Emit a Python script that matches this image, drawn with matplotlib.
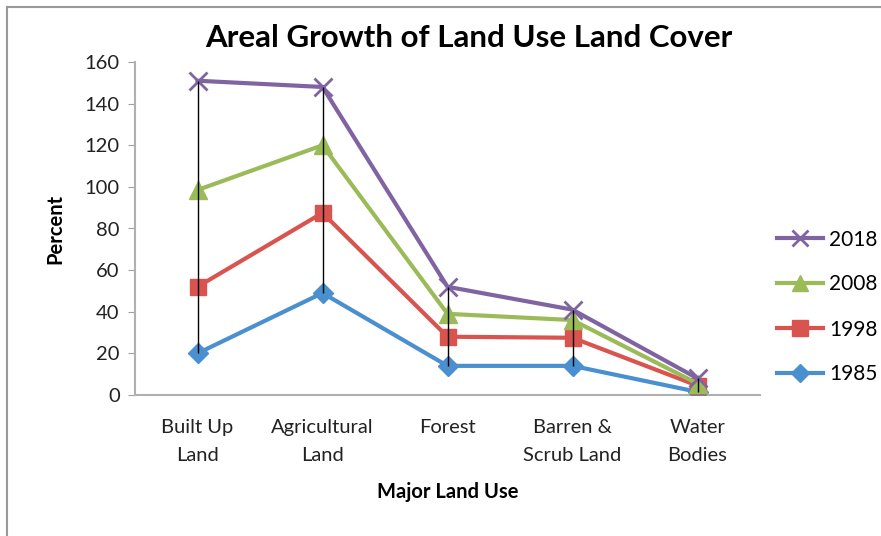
import matplotlib.pyplot as plt
from matplotlib.lines import Line2D

plt.rcParams['font.family'] = ['Lato', 'DejaVu Sans']

categories = ["Built Up\nLand", "Agricultural\nLand", "Forest", "Barren &\nScrub Land", "Water\nBodies"]
years = ["2018", "2008", "1998", "1985"]
v2018 = [151, 148, 52, 41, 8]
v2008 = [98.5, 120, 39, 36, 5.5]
v1998 = [52, 87.5, 28, 27.5, 4.5]
v1985 = [20, 49, 14, 14, 1.5]

series = {"2018": v2018, "2008": v2008, "1998": v1998, "1985": v1985}
colors = {"2018": "#8064A2", "2008": "#9BBB59", "1998": "#D9534F", "1985": "#4A8FCF"}
markers = {"2018": "x", "2008": "^", "1998": "s", "1985": "D"}
msizes = {"2018": 13, "2008": 13, "1998": 12, "1985": 10}

fig = plt.figure(figsize=(8.81, 5.36), dpi=100)
ax = fig.add_axes([135 / 881, 1 - 395 / 536, 625 / 881, 333 / 536])

x = list(range(len(categories)))
for yr in ["1985", "1998", "2008", "2018"]:
    ax.plot(x, series[yr], color=colors[yr], lw=3, marker=markers[yr],
            ms=msizes[yr], mew=2 if yr == "2018" else 1, label=yr, zorder=3)

# high-low lines across all years
lows = [min(v) for v in zip(*series.values())]
highs = [max(v) for v in zip(*series.values())]
ax.vlines(x, lows, highs, color="black", lw=1, zorder=4)

ax.set_xlim(-0.5, len(categories) - 0.5)
ax.set_ylim(0, 160)
ax.set_yticks(range(0, 161, 20))
ax.set_xticks(x)
ax.set_xticklabels(categories, fontsize=14.5, color="#222222", linespacing=1.8)
ax.tick_params(axis="y", labelsize=14.5, colors="#222222", length=5, color="#a0a0a0", pad=6)
ax.tick_params(axis="x", length=0, pad=17)
for s in ["top", "right"]:
    ax.spines[s].set_visible(False)
for s in ["left", "bottom"]:
    ax.spines[s].set_color("#b0b0b0")
    ax.spines[s].set_linewidth(1.5)

ax.set_xlabel("Major Land Use", fontsize=14.5, fontweight="bold", labelpad=13)
ax.set_ylabel("Percent", fontsize=14.5, fontweight="bold", labelpad=14)
fig.text(0.532, 1 - 38 / 536, "Areal Growth of Land Use Land Cover",
         ha="center", va="center", fontsize=22.5, fontweight="bold")

handles = [Line2D([], [], color=colors[y], lw=3, marker=markers[y], ms=msizes[y] - 1,
                  mew=2 if y == "2018" else 1) for y in years]
fig.legend(handles, years, loc="center left", bbox_to_anchor=(758 / 881, 1 - 307 / 536),
           frameon=False, fontsize=15, handlelength=2.2, labelspacing=1.2,
           handletextpad=0.3)

# outer chart border
fig.add_artist(Line2D([7 / 881, 7 / 881], [0, 1 - 7 / 536], color="#999999", lw=1.5,
                      transform=fig.transFigure))
fig.add_artist(Line2D([7 / 881, 1], [1 - 7 / 536, 1 - 7 / 536], color="#999999", lw=1.5,
                      transform=fig.transFigure))

fig.savefig("out.png", dpi=100)
